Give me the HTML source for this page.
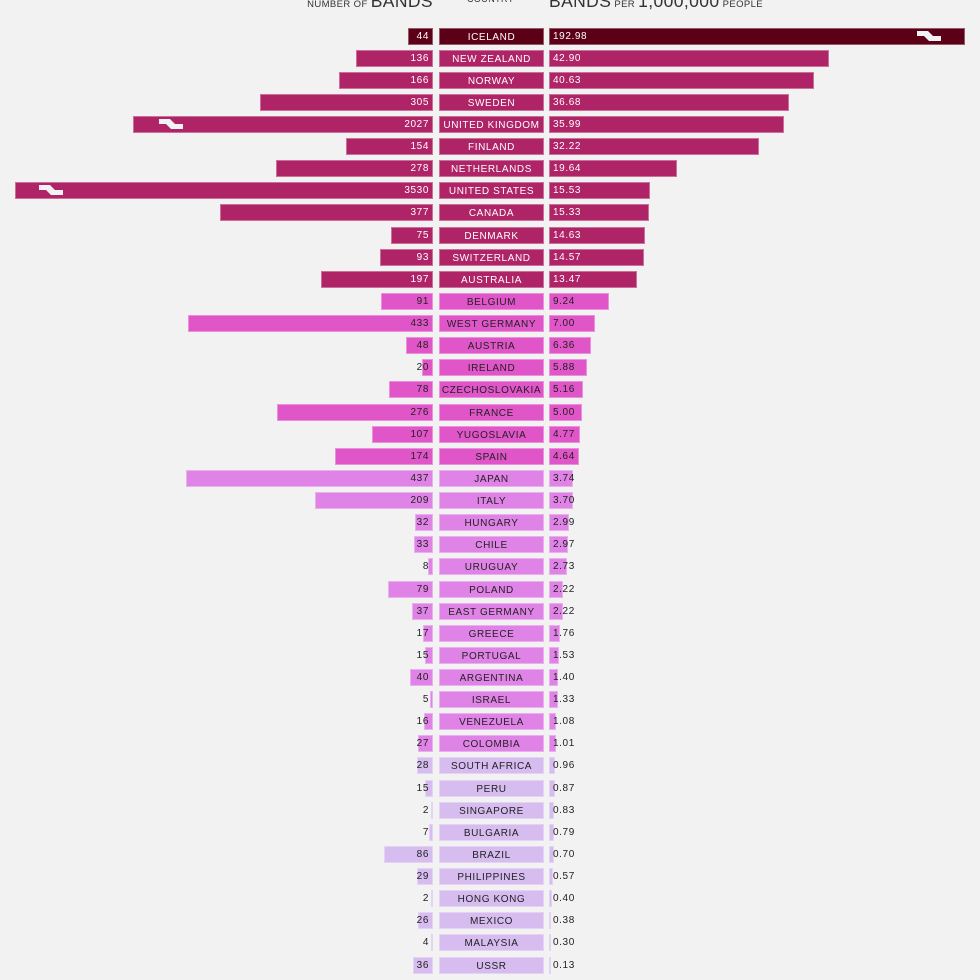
<!DOCTYPE html>
<html><head><meta charset="utf-8"><style>
body{margin:0;background:#f2f2f2;width:980px;height:980px;overflow:hidden;position:relative;font-family:"Liberation Sans",sans-serif}
.b{position:absolute;height:17px;box-sizing:border-box;border:1px solid rgba(255,255,255,0.35);font-size:10px;letter-spacing:0.6px;line-height:17px;white-space:nowrap}
.t{position:absolute;font-size:10px;letter-spacing:0.6px;line-height:18px;height:17px}
.h{position:absolute;color:#333;letter-spacing:0.4px;white-space:nowrap}
</style></head><body>
<div class="h" style="right:547px;top:-9px;font-size:9.5px"><span>NUMBER OF </span><span style="font-size:17.5px">BANDS</span></div>
<div class="h" style="left:467px;top:-6px;font-size:9px">COUNTRY</div>
<div class="h" style="left:549px;top:-9px;font-size:9.5px"><span style="font-size:17.5px">BANDS</span> PER <span style="font-size:17.5px">1,000,000</span> PEOPLE</div>
<div id="c"></div>
<script>
var d=[["ICELAND",44,"192.98"],["NEW ZEALAND",136,"42.90"],["NORWAY",166,"40.63"],["SWEDEN",305,"36.68"],["UNITED KINGDOM",2027,"35.99"],["FINLAND",154,"32.22"],["NETHERLANDS",278,"19.64"],["UNITED STATES",3530,"15.53"],["CANADA",377,"15.33"],["DENMARK",75,"14.63"],["SWITZERLAND",93,"14.57"],["AUSTRALIA",197,"13.47"],["BELGIUM",91,"9.24"],["WEST GERMANY",433,"7.00"],["AUSTRIA",48,"6.36"],["IRELAND",20,"5.88"],["CZECHOSLOVAKIA",78,"5.16"],["FRANCE",276,"5.00"],["YUGOSLAVIA",107,"4.77"],["SPAIN",174,"4.64"],["JAPAN",437,"3.74"],["ITALY",209,"3.70"],["HUNGARY",32,"2.99"],["CHILE",33,"2.97"],["URUGUAY",8,"2.73"],["POLAND",79,"2.22"],["EAST GERMANY",37,"2.22"],["GREECE",17,"1.76"],["PORTUGAL",15,"1.53"],["ARGENTINA",40,"1.40"],["ISRAEL",5,"1.33"],["VENEZUELA",16,"1.08"],["COLOMBIA",27,"1.01"],["SOUTH AFRICA",28,"0.96"],["PERU",15,"0.87"],["SINGAPORE",2,"0.83"],["BULGARIA",7,"0.79"],["BRAZIL",86,"0.70"],["PHILIPPINES",29,"0.57"],["HONG KONG",2,"0.40"],["MEXICO",26,"0.38"],["MALAYSIA",4,"0.30"],["USSR",36,"0.13"]];
var h="";
function col(i){return i==0?"#5c0018":i<=11?"#ae2466":i<=19?"#e055c8":i<=32?"#e083e6":"#d6bcef";}
function zig(x,y){return '<svg style="position:absolute;left:'+(x-11)+'px;top:'+y+'px" width="24" height="17"><polygon points="0,3 11,3 16,8 24,8 24,13 12,13 7,8 0,8" fill="#f2f2f2"/></svg>';}
d.forEach(function(r,i){
 var y=Math.round(36+i*22.12-8.5),c=col(i),tc=i<=11?"#fff":"#222";
 var lw=Math.max(2,r[1]*0.566),lx=433-lw;
 if(r[1]==2027)lx=133; if(r[1]==3530)lx=15;
 var v=parseFloat(r[2]),rw=Math.max(2,v*6.53); if(i==0)rw=965-549;
 h+='<div class="b" style="left:'+lx+'px;top:'+y+'px;width:'+(433-lx)+'px;background:'+c+'"></div>';
 h+='<div class="t" style="right:'+(980-429)+'px;top:'+y+'px;color:'+tc+'">'+r[1]+'</div>';
 h+='<div class="b" style="left:439px;top:'+y+'px;width:105px;background:'+c+';color:'+tc+';text-align:center">'+r[0]+'</div>';
 h+='<div class="b" style="left:549px;top:'+y+'px;width:'+rw+'px;background:'+c+'"></div>';
 h+='<div class="t" style="left:553px;top:'+y+'px;color:'+tc+'">'+r[2]+'</div>';
 if(i==0)h+=zig(928,y); if(i==4)h+=zig(170,y); if(i==7)h+=zig(50,y);
});
document.getElementById("c").innerHTML=h;
</script>
</body></html>
